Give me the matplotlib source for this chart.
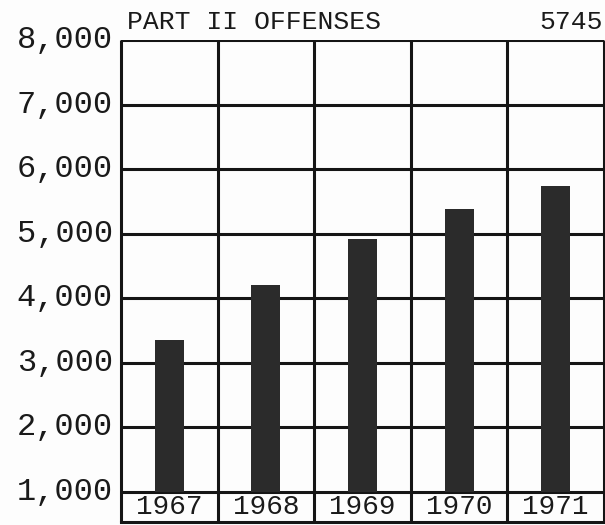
import numpy as np
import matplotlib
matplotlib.use('Agg')
import matplotlib.pyplot as plt

years = ['1967', '1968', '1969', '1970', '1971']
offenses = [3350, 4200, 4920, 5390, 5745]
y_ticks = [1000, 2000, 3000, 4000, 5000, 6000, 7000, 8000]
y_labels = ['1,000', '2,000', '3,000', '4,000', '5,000', '6,000', '7,000', '8,000']
title = 'PART II OFFENSES'
total_label = '5745'

plt.rcParams['font.family'] = ['Liberation Mono', 'DejaVu Sans Mono']

W, H = 605, 525
fig = plt.figure(figsize=(W / 100, H / 100), dpi=100)
fig.patch.set_facecolor('#fdfdfd')

# pixel geometry of the grid
left_px, right_px = 121, 604
top_px, base_px, strip_px = 40, 492, 522
per_k = (base_px - top_px) / 7.0  # pixels per 1000
ymin = 1000 - (strip_px - base_px) / per_k * 1000

ax = fig.add_axes([left_px / W, (H - strip_px) / H, (right_px - left_px) / W, (strip_px - top_px) / H])
ax.set_xlim(-0.5, 4.5)
ax.set_ylim(ymin, 8000)
ax.axis('off')

lw = 2.2
x = np.arange(len(years))
for v in y_ticks:
    ax.axhline(v, color='#151515', lw=lw, zorder=1)
ax.axhline(ymin, color='#151515', lw=lw, zorder=1, clip_on=False)
for b in np.arange(-0.5, 5.0, 1.0):
    ax.plot([b, b], [ymin, 8000], color='#151515', lw=lw, zorder=1, clip_on=False, solid_capstyle='butt')

ax.bar(x, np.array(offenses) - 1000, bottom=1000, width=0.30, color='#2b2b2b', zorder=2)

for xi, yr in zip(x, years):
    ax.text(xi, (ymin + 1000) / 2, yr, ha='center', va='center', fontsize=20, color='#1a1a1a')

for v, lab in zip(y_ticks, y_labels):
    fig.text(113 / W, 1 - (base_px - (v - 1000) / 1000 * per_k) / H, lab,
             ha='right', va='center', fontsize=23, color='#1a1a1a')

fig.text(127 / W, 1 - 22 / H, title, ha='left', va='center', fontsize=19, color='#1a1a1a')
fig.text(603 / W, 1 - 22 / H, total_label, ha='right', va='center', fontsize=19, color='#1a1a1a')

fig.savefig('out.png', dpi=100, facecolor=fig.get_facecolor())
